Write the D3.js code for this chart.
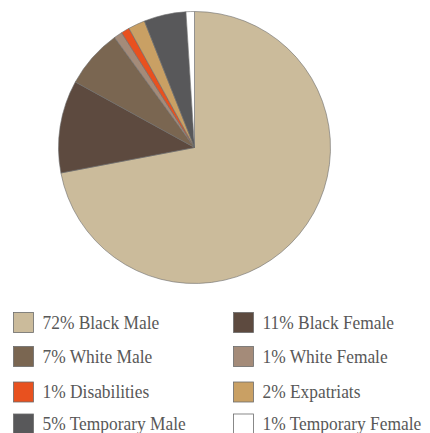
<!DOCTYPE html>
<html>
<head>
<meta charset="utf-8">
<script src="https://cdn.jsdelivr.net/npm/d3@7"></script>
<style>
  html, body { margin: 0; padding: 0; background: #fff; }
  svg { display: block; }
  .legend-label { font-family: "Liberation Serif", "Times New Roman", "DejaVu Serif", serif; font-size: 19px; fill: #585858; }
</style>
</head>
<body>
<svg id="chart" width="430" height="433"></svg>
<script>
// Workforce composition
const categories = [
  "Black Male", "Black Female", "White Male", "White Female",
  "Disabilities", "Expatriats", "Temporary Male", "Temporary Female"
];
const shares = [72, 11, 7, 1, 1, 2, 5, 1];
const colors = [
  "#cbbb9b", "#5d4a3f", "#7a6651", "#a48b79",
  "#e8511f", "#c9a064", "#58585a", "#ffffff"
];
// Legend reading order: left column then right column, row by row
const legendOrder = [
  "Black Male", "Black Female",
  "White Male", "White Female",
  "Disabilities", "Expatriats",
  "Temporary Male", "Temporary Female"
];

const data = categories.map((c, i) => ({ name: c, value: shares[i], color: colors[i] }));

const svg = d3.select("#chart");
const cx = 194.5, cy = 147.5, radius = 136;

const pie = d3.pie().value(d => d.value).sort(null);
const arc = d3.arc().innerRadius(0).outerRadius(radius);

svg.append("g")
  .attr("transform", `translate(${cx},${cy})`)
  .selectAll("path")
  .data(pie(data))
  .join("path")
  .attr("d", arc)
  .attr("fill", d => d.data.color)
  .attr("stroke", "#6b6b6b")
  .attr("stroke-width", 0.6);

// Legend layout
const byName = new Map(data.map(d => [d.name, d]));
const colX = [13.5, 233.5];
const rowTop = [312.5, 346.5, 382, 414];
const sw = 20;
const condense = 0.915; // narrow the serif face toward an old-style book setting

const legend = svg.append("g");
legendOrder.forEach((name, i) => {
  const d = byName.get(name);
  const col = i % 2, row = Math.floor(i / 2);
  const g = legend.append("g").attr("transform", `translate(${colX[col]},${rowTop[row]})`);
  g.append("rect")
    .attr("width", sw).attr("height", sw)
    .attr("fill", d.color)
    .attr("stroke", "#6b6b6b")
    .attr("stroke-width", 0.8);
  g.append("text")
    .attr("class", "legend-label")
    .attr("transform", `translate(29,16) scale(${condense},1)`)
    .text(`${d.value}% ${d.name}`);
});
</script>
</body>
</html>
